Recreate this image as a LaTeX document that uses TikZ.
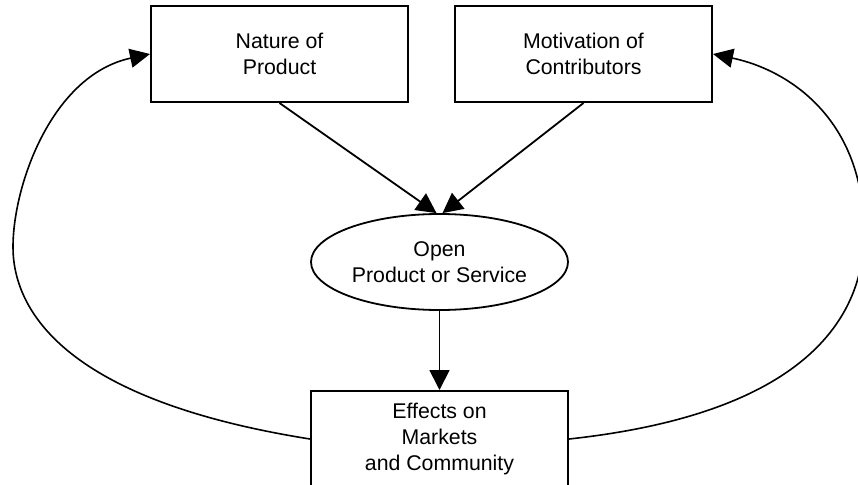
\documentclass[tikz,border=0pt]{standalone}
\usepackage{fontspec}
\setmainfont{Liberation Sans}
\usetikzlibrary{shapes.geometric,arrows.meta}
\begin{document}
\begin{tikzpicture}[x=1pt,y=-1pt,
  lbl/.style={align=center, font=\fontsize{21.3}{25.8}\selectfont},
  box/.style={lbl, draw, line width=2pt, minimum width=257pt, minimum height=96pt, inner sep=0pt},
  oval/.style={lbl, ellipse, draw, line width=1.8pt, minimum width=257pt, minimum height=96pt, inner sep=0pt},
  link/.style={line width=1.8pt, -{Triangle[length=20pt,width=20pt]}},
  loop/.style={line width=1.6pt, -{Triangle[length=20pt,width=19pt]}}
]
\clip (0,0) rectangle (858,484);
\node[box] (nat) at (279.5,54) {Nature of\\Product};
\node[box] (mot) at (583.5,54) {Motivation of\\Contributors};
\node[oval] (open) at (439.5,262) {Open\\Product or Service};
\node[box] (eff) at (439.5,439) {Effects on\\Markets\\and Community};
\coordinate (lm) at (13,247);
\coordinate (rm) at (864,233);
\draw[link] (nat.south) -- ([xshift=-3pt]open.north);
\draw[link] (mot.south) -- ([xshift=3pt]open.north);
\draw[link] (open.south) -- (eff.north);
\draw[loop] (eff.west) .. controls (58,399) and (13,306) .. (lm)
  .. controls (13,185) and (52,75) .. (nat.west);
\draw[loop] (eff.east) .. controls (837,410) and (864,292) .. (rm)
  .. controls (864,119) and (789,70) .. (mot.east);
\end{tikzpicture}
\end{document}
